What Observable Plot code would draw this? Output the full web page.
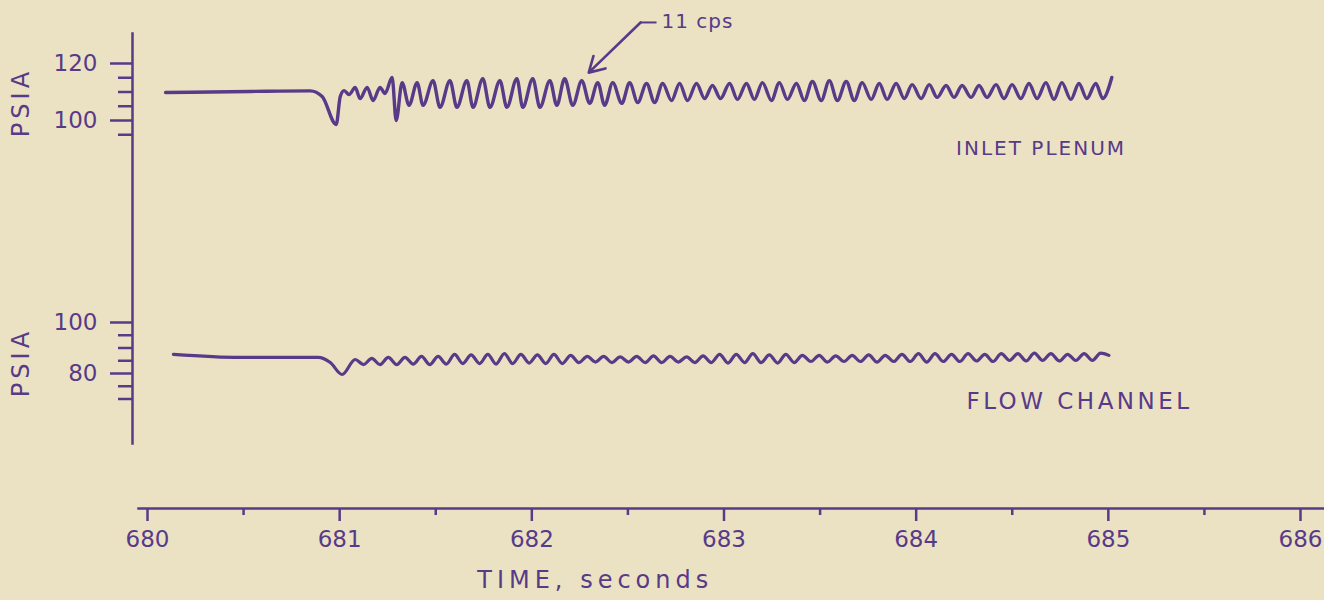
<!DOCTYPE html>
<html><head><meta charset="utf-8">
<script src="https://cdn.jsdelivr.net/npm/d3@7"></script>
<script src="https://cdn.jsdelivr.net/npm/@observablehq/plot@0.6"></script>
<style>
html,body{margin:0;padding:0;background:#ebe2c4;}
#chart{position:relative;width:1324px;height:600px;overflow:hidden;background:#ebe2c4;}
#chart svg{position:absolute;left:0;top:0;}
</style></head><body><div id="chart"></div>
<script>
// ---- data ----
const inletTime = [680.094,680.535,680.847,680.909,680.982,681.003,681.023,681.049,681.081,681.106,
681.143,681.174,681.210,681.236,681.273,681.294,681.325,681.361,681.403,681.434,
681.486,681.522,681.574,681.610,681.662,681.694,681.745,681.782,681.834,681.870,
681.922,681.953,682.005,682.042,682.094,682.130,682.171,682.213,682.260,682.301,
682.343,682.379,682.421,682.468,682.509,682.551,682.597,682.639,682.681,682.727,
682.769,682.810,682.857,682.899,682.940,
682.982,683.029,683.070,683.117,683.158,683.200,683.247,683.288,683.330,683.377,
683.418,683.460,683.506,683.548,683.590,683.636,683.678,683.719,683.766,683.808,
683.849,683.896,683.938,683.979,684.026,684.068,684.109,684.156,684.197,684.239,
684.286,684.327,684.369,684.416,684.457,684.499,684.545,684.587,684.629,684.675,
684.717,684.758,684.805,684.847,684.888,684.935,684.971,685.018];
const inletPsia = [109.8,110.2,110.4,108.4,98.6,108.4,110.5,109.1,111.6,107.7,
111.6,107.0,111.6,109.5,115.1,100.0,113.3,105.3,113.3,105.3,
114.0,104.6,114.0,104.6,114.0,104.6,114.7,104.6,114.0,104.6,
114.7,104.6,114.7,104.6,114.0,105.3,114.7,105.3,114.0,106.0,
113.3,105.3,113.3,106.0,113.3,106.3,113.0,106.3,113.0,107.0,
113.0,107.0,113.0,107.7,112.3,
107.7,113.0,107.4,113.0,107.4,113.3,107.0,113.3,107.4,113.0,
107.0,113.7,107.0,114.0,107.0,113.7,107.0,113.3,107.4,113.0,
107.4,113.0,107.7,112.6,107.7,112.6,108.1,112.3,108.1,112.3,
108.1,112.3,108.1,112.6,107.7,112.6,107.7,113.0,107.7,113.3,
107.4,113.3,107.4,113.0,107.7,113.0,107.7,115.1];

const flowTime = [680.135,680.483,680.888,680.951,681.013,
681.081,681.124,681.167,681.210,681.253,681.297,681.340,681.383,681.426,681.469,
681.512,681.555,681.598,681.641,681.684,681.728,681.771,681.814,681.857,681.900,
681.943,681.986,682.029,682.072,682.115,682.159,682.202,682.245,682.288,682.331,
682.374,682.417,682.460,682.503,682.546,682.590,682.633,682.676,682.719,682.762,
682.805,682.848,682.891,682.934,682.977,683.021,683.064,683.107,683.150,683.193,
683.236,683.279,683.322,683.365,683.408,683.452,683.495,683.538,683.581,683.624,
683.667,683.710,683.753,683.796,683.839,683.883,683.926,683.969,684.012,684.055,
684.098,684.141,684.184,684.227,684.270,684.314,684.357,684.400,684.443,684.486,
684.529,684.572,684.615,684.658,684.701,684.745,684.788,684.831,684.874,684.917,
684.960,685.003];
const flowPsia = [87.5,86.3,86.3,84.3,79.6,
85.5,83.5,85.9,83.5,86.3,83.5,86.3,83.7,86.7,83.5,
86.7,83.7,87.5,83.9,87.3,83.9,87.5,83.7,87.8,83.9,
87.5,84.1,87.3,83.9,87.5,83.9,87.1,84.3,86.7,84.5,
86.7,84.3,86.5,84.5,86.7,84.3,86.9,84.3,86.7,84.5,
86.5,84.3,86.9,84.3,87.5,84.1,87.5,84.3,87.8,84.3,
87.3,84.1,87.5,84.3,87.1,84.7,87.1,84.5,86.9,84.7,
87.1,84.7,87.3,84.5,87.1,84.7,87.5,84.7,87.8,84.5,
87.8,84.7,87.5,84.7,87.8,84.9,87.5,84.7,87.8,85.1,
87.8,84.9,88.0,85.1,87.8,84.9,87.5,85.1,87.8,85.1,
88.0,87.1];

const timeTicks = [680,681,682,683,684,685,686];
const timeHalfTicks = [680.5,681.5,682.5,683.5,684.5,685.5];
const inletMajorTicks = [100,120];
const inletMinorTicks = [95,105,110,115];
const flowMajorTicks = [80,100];
const flowMinorTicks = [70,75,85,90,95];
const inletLabel = "INLET PLENUM";
const flowLabel = "FLOW CHANNEL";
const yLabel = "PSIA";
const xLabel = "TIME, seconds";
const freqLabel = "11 cps";

(function(){
// ---- styling ----
const INK = "#583a88";
const FONT = "'DejaVu Sans', sans-serif";
const X = {domain:[680,686], range:[147,1300]};
const svgStyle = `background:transparent;color:${INK};font-family:${FONT};overflow:visible;`;
const panel = {width:1324, height:600, marginLeft:132, marginRight:0, marginTop:33, marginBottom:157, style:svgStyle};

const inletPlot = Plot.plot({
  ...panel,
  x:{...X, axis:null},
  y:{domain:[100,120], range:[120,63], axis:null},
  marks:[
    Plot.frame({anchor:"left", stroke:INK, strokeWidth:2.5}),
    Plot.axisY({ticks:inletMajorTicks, tickSize:22, tickPadding:13, fontSize:23, strokeWidth:2.5, label:null, tickFormat:d=>String(d)}),
    Plot.axisY({ticks:inletMinorTicks, tickSize:14, strokeWidth:2.5, label:null, tickFormat:()=>""}),
    Plot.text([yLabel], {y:[106.3], frameAnchor:"left", textAnchor:"middle", dx:-111, rotate:-90, fontSize:24, fill:INK}),
    Plot.line(inletTime, {x:inletTime, y:inletPsia, curve:"monotone-x", stroke:INK, strokeWidth:3.4, strokeLinejoin:"round", strokeLinecap:"round"}),
    Plot.text([inletLabel], {x:[684.65], y:[90.2], fontSize:20, fill:INK}),
    Plot.link([0], {x1:[682.566], y1:[134.4], x2:[682.649], y2:[134.4], stroke:INK, strokeWidth:2}),
    Plot.arrow([0], {x1:[682.566], y1:[134.4], x2:[682.296], y2:[116.8], stroke:INK, strokeWidth:2.6, headLength:10}),
    Plot.text([freqLabel], {x:[682.675], y:[134.7], textAnchor:"start", fontSize:20, fill:INK})
  ]
});

const flowPlot = Plot.plot({
  ...panel,
  x:{...X, axis:null},
  y:{domain:[80,100], range:[373,322], axis:null},
  marks:[
    Plot.axisY({ticks:flowMajorTicks, tickSize:22, tickPadding:13, fontSize:23, strokeWidth:2.5, label:null, tickFormat:d=>String(d)}),
    Plot.axisY({ticks:flowMinorTicks, tickSize:14, strokeWidth:2.5, label:null, tickFormat:()=>""}),
    Plot.text([yLabel], {y:[84.3], frameAnchor:"left", textAnchor:"middle", dx:-111, rotate:-90, fontSize:24, fill:INK}),
    Plot.line(flowTime, {x:flowTime, y:flowPsia, curve:"monotone-x", stroke:INK, strokeWidth:3.2, strokeLinejoin:"round", strokeLinecap:"round"}),
    Plot.text([flowLabel], {x:[684.85], y:[69.0], fontSize:23, fill:INK})
  ]
});

const timePlot = Plot.plot({
  width:1324, height:600, marginLeft:138, marginRight:0, marginTop:0, marginBottom:92, style:svgStyle,
  x:{...X},
  marks:[
    Plot.frame({anchor:"bottom", stroke:INK, strokeWidth:2.5}),
    Plot.axisX({ticks:timeTicks, tickSize:13, tickPadding:9, fontSize:23, strokeWidth:2.5, label:null, tickFormat:d=>String(d)}),
    Plot.axisX({ticks:timeHalfTicks, tickSize:7, strokeWidth:2.5, label:null, tickFormat:()=>""}),
    Plot.text([xLabel], {x:[682.33], frameAnchor:"bottom", dy:79, fontSize:24, fill:INK})
  ]
});

const chart = document.getElementById("chart");
chart.append(inletPlot, flowPlot, timePlot);

const spacing = {"PSIA":"4px","INLET PLENUM":"2px","FLOW CHANNEL":"3.5px","TIME, seconds":"5px","11 cps":"1px"};
d3.select(chart).selectAll("text").each(function(){
  const t = this.textContent;
  if (spacing[t]) this.setAttribute("letter-spacing", spacing[t]);
});
})();
</script>
</body></html>
